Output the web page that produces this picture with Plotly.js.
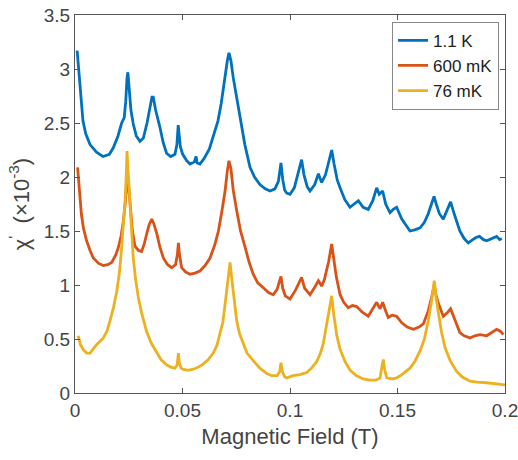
<!DOCTYPE html>
<html>
<head>
<meta charset="utf-8">
<script src="https://cdn.plot.ly/plotly-3.0.1.min.js"></script>
<style>html,body{margin:0;padding:0;background:#fff;}#chart{width:518px;height:460px;}</style>
</head>
<body>
<div id="chart"></div>
<script>
// ---- data (field in T, chi' in units of 1e-3) ----
const seriesNames = ["1.1 K", "600 mK", "76 mK"];

const xBlue = [0.001,0.0015,0.002,0.0027,0.0037,0.005,0.007,0.010,0.013,0.016,0.0178,0.020,0.0217,0.0229,0.0236,0.0242,0.0246,0.0252,0.026,0.0271,0.0285,0.0302,0.0318,0.0335,0.0348,0.0358,0.0364,0.0375,0.0395,0.041,0.0426,0.0445,0.0465,0.0474,0.048,0.0485,0.049,0.0501,0.052,0.0535,0.0555,0.0563,0.0568,0.0581,0.060,0.0625,0.0645,0.0665,0.068,0.0695,0.0708,0.0716,0.0725,0.0736,0.075,0.0767,0.079,0.0814,0.0835,0.086,0.0885,0.0907,0.093,0.0946,0.0958,0.0966,0.0975,0.0985,0.100,0.102,0.104,0.1054,0.1065,0.108,0.1093,0.1115,0.1132,0.1147,0.1165,0.118,0.1194,0.1205,0.122,0.1233,0.1255,0.1279,0.130,0.1318,0.134,0.1364,0.1385,0.1403,0.1415,0.1431,0.1445,0.1465,0.148,0.1496,0.152,0.1545,0.1558,0.158,0.1605,0.1625,0.1643,0.1658,0.167,0.168,0.1695,0.1713,0.1732,0.1747,0.1765,0.178,0.179,0.181,0.1829,0.185,0.1865,0.1881,0.190,0.1915,0.1935,0.1961,0.1975,0.1985];
const yBlue = [3.17,3.05,2.90,2.72,2.52,2.40,2.30,2.23,2.19,2.21,2.27,2.38,2.50,2.55,2.70,2.92,2.97,2.82,2.62,2.49,2.38,2.33,2.36,2.50,2.65,2.74,2.74,2.62,2.46,2.32,2.22,2.19,2.21,2.30,2.48,2.40,2.28,2.21,2.15,2.12,2.14,2.19,2.13,2.12,2.17,2.26,2.38,2.52,2.68,2.90,3.07,3.15,3.08,2.92,2.75,2.58,2.30,2.09,2.00,1.93,1.89,1.87,1.89,1.96,2.13,1.98,1.88,1.85,1.84,1.90,2.05,2.16,2.02,1.91,1.87,1.93,2.03,1.95,2.02,2.15,2.25,2.12,1.97,1.90,1.79,1.72,1.75,1.78,1.72,1.70,1.78,1.90,1.84,1.87,1.75,1.67,1.70,1.72,1.61,1.53,1.50,1.51,1.53,1.58,1.66,1.75,1.82,1.75,1.66,1.61,1.70,1.77,1.65,1.55,1.50,1.43,1.39,1.42,1.44,1.45,1.42,1.41,1.43,1.45,1.42,1.43];

const xOrange = [0.0012,0.0018,0.0023,0.003,0.004,0.0054,0.007,0.0085,0.011,0.0132,0.0155,0.0171,0.019,0.0202,0.0215,0.0225,0.0233,0.024,0.0245,0.025,0.0258,0.0267,0.0279,0.0295,0.031,0.0322,0.0333,0.0345,0.0357,0.0366,0.038,0.0395,0.0411,0.043,0.045,0.0468,0.0476,0.0481,0.0486,0.0496,0.0515,0.0535,0.0558,0.0581,0.0605,0.0628,0.065,0.0667,0.0683,0.0698,0.0708,0.0716,0.0725,0.0736,0.0752,0.077,0.0791,0.081,0.0829,0.085,0.0876,0.090,0.0922,0.094,0.0953,0.0958,0.0966,0.0978,0.0992,0.100,0.1025,0.104,0.1054,0.1068,0.1093,0.1115,0.1132,0.1147,0.116,0.118,0.1194,0.1203,0.1215,0.1233,0.125,0.1271,0.129,0.131,0.1335,0.1364,0.138,0.1403,0.1419,0.1431,0.1445,0.1457,0.1475,0.1496,0.152,0.1545,0.1574,0.160,0.162,0.1643,0.1658,0.1671,0.168,0.169,0.1713,0.173,0.1747,0.1765,0.179,0.181,0.1837,0.186,0.1884,0.1915,0.194,0.1961,0.198,0.1992];
const yOrange = [2.09,1.96,1.78,1.65,1.52,1.41,1.32,1.25,1.20,1.18,1.19,1.21,1.28,1.35,1.46,1.59,1.75,1.95,2.03,1.90,1.68,1.50,1.36,1.32,1.31,1.38,1.47,1.56,1.61,1.57,1.48,1.35,1.25,1.19,1.16,1.19,1.28,1.39,1.28,1.16,1.12,1.10,1.11,1.13,1.18,1.25,1.37,1.50,1.68,1.87,2.05,2.15,2.08,1.88,1.69,1.50,1.35,1.21,1.10,1.02,0.975,0.93,0.91,0.96,1.05,1.08,0.97,0.90,0.88,0.87,0.95,1.02,1.07,0.97,0.91,0.98,1.04,0.99,1.05,1.22,1.38,1.25,1.08,0.91,0.84,0.79,0.81,0.80,0.75,0.71,0.76,0.84,0.78,0.84,0.76,0.70,0.72,0.71,0.65,0.61,0.59,0.61,0.64,0.76,0.88,1.00,0.90,0.83,0.71,0.74,0.78,0.68,0.56,0.53,0.51,0.53,0.54,0.53,0.56,0.59,0.57,0.54];

const xYellow = [0.0015,0.0025,0.0039,0.0055,0.007,0.0085,0.0101,0.0132,0.015,0.0163,0.018,0.0194,0.0207,0.0217,0.0226,0.0233,0.0238,0.0242,0.0247,0.0256,0.0263,0.0271,0.0282,0.0295,0.031,0.0333,0.0355,0.038,0.040,0.0426,0.0446,0.0465,0.0475,0.0481,0.0486,0.0494,0.0501,0.0525,0.055,0.0575,0.0597,0.062,0.0643,0.066,0.0674,0.0688,0.0698,0.0708,0.0715,0.0721,0.0728,0.0736,0.0743,0.0752,0.0765,0.0783,0.080,0.0829,0.086,0.0892,0.0915,0.094,0.0952,0.0958,0.0964,0.0975,0.0985,0.1015,0.1045,0.1078,0.110,0.1124,0.114,0.1155,0.1168,0.118,0.1194,0.1204,0.1217,0.1232,0.1256,0.128,0.131,0.134,0.1372,0.140,0.1419,0.1428,0.1434,0.144,0.145,0.1475,0.1496,0.152,0.1558,0.158,0.1605,0.1625,0.1643,0.1658,0.1671,0.168,0.169,0.1705,0.1721,0.1745,0.1775,0.180,0.1837,0.187,0.1915,0.1945,0.1965,0.2];
const yYellow = [0.53,0.45,0.40,0.37,0.37,0.41,0.45,0.51,0.58,0.67,0.80,0.94,1.12,1.35,1.55,1.78,2.00,2.24,2.05,1.72,1.45,1.25,1.05,0.88,0.74,0.57,0.46,0.37,0.31,0.26,0.24,0.23,0.26,0.37,0.27,0.23,0.22,0.21,0.22,0.24,0.27,0.31,0.37,0.44,0.54,0.66,0.82,0.98,1.10,1.21,1.08,0.94,0.80,0.67,0.55,0.45,0.37,0.30,0.23,0.18,0.16,0.16,0.20,0.28,0.20,0.15,0.14,0.16,0.17,0.19,0.23,0.29,0.36,0.46,0.60,0.75,0.90,0.72,0.54,0.41,0.29,0.21,0.16,0.13,0.12,0.12,0.14,0.25,0.31,0.22,0.14,0.13,0.14,0.17,0.23,0.29,0.39,0.50,0.67,0.85,1.04,0.87,0.73,0.56,0.42,0.30,0.20,0.15,0.11,0.10,0.095,0.09,0.08,0.075];

const xTickVals = [0, 0.05, 0.1, 0.15, 0.2];
const xTickText = ["0", "0.05", "0.1", "0.15", "0.2"];
const yTickVals = [0, 0.5, 1, 1.5, 2, 2.5, 3, 3.5];
const yTickText = ["0", "0.5", "1", "1.5", "2", "2.5", "3", "3.5"];

const colors = ["#0072BD", "#D95319", "#EDB120"];

const xs = [xBlue, xOrange, xYellow];
const ys = [yBlue, yOrange, yYellow];

const traces = seriesNames.map((n, i) => ({
  x: xs[i], y: ys[i], name: n, type: "scatter", mode: "lines",
  line: {color: colors[i], width: 2.8, shape: "linear"}
}));

const fontFam = "Liberation Sans, Arial, sans-serif";
const axisCommon = {
  showline: true, linecolor: "#555", linewidth: 1, mirror: "ticks",
  ticks: "inside", ticklen: 5, tickcolor: "#555", tickwidth: 1,
  showgrid: false, zeroline: false,
  tickfont: {family: fontFam, size: 19, color: "#444"}
};

const layout = {
  width: 518, height: 460,
  margin: {l: 75, r: 13, t: 15, b: 67},
  paper_bgcolor: "#fff", plot_bgcolor: "#fff",
  showlegend: true,
  legend: {
    x: 0.986, xanchor: "right", y: 0.982, yanchor: "top",
    bgcolor: "#fff", bordercolor: "#888", borderwidth: 1,
    font: {family: fontFam, size: 17, color: "#222"},
    tracegroupgap: 0, itemwidth: 30
  },
  xaxis: Object.assign({}, axisCommon, {
    range: [0, 0.2], tickmode: "array", tickvals: xTickVals, ticktext: xTickText,
    ticklabeloverflow: "allow",
    title: {text: "Magnetic Field (T)", font: {family: fontFam, size: 22, color: "#444"}, standoff: 8}
  }),
  yaxis: Object.assign({}, axisCommon, {
    range: [0, 3.5], tickmode: "array", tickvals: yTickVals, ticktext: yTickText,
    title: {text: "χ<sup>'</sup>  (×10<sup>-3</sup>)", font: {family: fontFam, size: 22, color: "#444"}, standoff: 8}
  })
};

Plotly.newPlot("chart", traces, layout, {displayModeBar: false, staticPlot: true});
</script>
</body>
</html>
